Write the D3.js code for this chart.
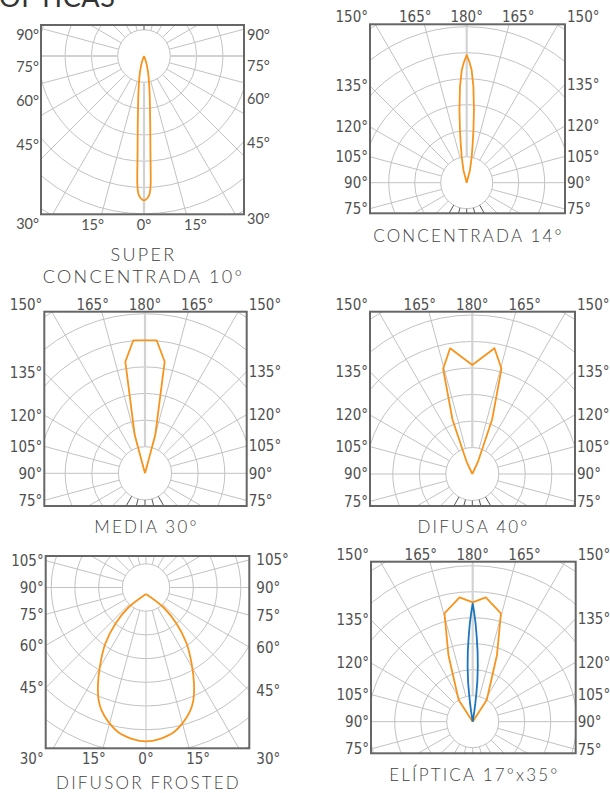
<!DOCTYPE html>
<html><head><meta charset="utf-8">
<script src="https://cdn.jsdelivr.net/npm/d3@7"></script>
<style>
html,body{margin:0;padding:0;background:#fff;}
svg{display:block;}
</style></head><body>
<svg id="chart" width="610" height="793"></svg>
<script>
// ---------------- data ----------------
const title = "ÓPTICAS";
const captions = [["SUPER", "CONCENTRADA 10°"], ["CONCENTRADA 14°"], ["MEDIA 30°"], ["DIFUSA 40°"], ["DIFUSOR FROSTED"], ["ELÍPTICA 17°x35°"]];

// photometric curves: angle from beam axis (deg), relative intensity (in grid rings)
const superAngles = [-25, -20.6, -16.7, -12.7, -8.9, -6.8, -5.1, -3.7, -2.9, -2.3, -1.4, 0, 1.4, 2.3, 2.9, 3.7, 5.1, 6.8, 8.9, 12.7, 16.7, 20.6, 25];
const superValues = [0, 0.16, 0.40, 0.78, 1.35, 1.91, 2.67, 3.81, 4.95, 5.25, 5.40, 5.49, 5.40, 5.25, 4.95, 3.81, 2.67, 1.91, 1.35, 0.78, 0.40, 0.16, 0];

const concAngles = [-18, -14.6, -10.9, -8.7, -7.3, -5.7, -4.0, -2.5, -1.4, 0, 1.4, 2.5, 4.0, 5.7, 7.3, 8.7, 10.9, 14.6, 18];
const concValues = [0, 0.50, 1.02, 1.53, 2.04, 2.81, 3.70, 4.34, 4.62, 4.91, 4.62, 4.34, 3.70, 2.81, 2.04, 1.53, 1.02, 0.50, 0];

const mediaAngles = [-20, -15, -10, -5, 0, 5, 10, 15, 20];
const mediaValues = [0, 1.49, 4.26, 5.02, 5.0, 5.02, 4.26, 1.49, 0];

const difusaAngles = [-30, -25, -20, -15.5, -10, 0, 10, 15.5, 20, 25, 30];
const difusaValues = [0, 0.5, 2.18, 4.12, 4.82, 4.11, 4.82, 4.12, 2.18, 0.5, 0];

const frostedAngles = [0, 41.3, 40.2, 35.9, 30.9, 26.5, 22.7, 19.7, 15.7, 10.8, 5, 0, -5, -10.8, -15.7, -19.7, -22.7, -26.5, -30.9, -35.9, -40.2, -41.3, 0];
const frostedValues = [0.27, 1.11, 2.00, 2.93, 3.75, 4.54, 5.17, 5.53, 5.88, 6.22, 6.42, 6.49, 6.42, 6.22, 5.88, 5.53, 5.17, 4.54, 3.75, 2.93, 2.00, 1.11, 0.27];

const elipWideAngles = [-40, -33, -25, -20, -14.6, -6, 0, 6, 14.6, 20, 25, 33, 40];
const elipWideValues = [0, 0.99, 1.62, 2.73, 4.31, 4.81, 4.59, 4.81, 4.31, 2.73, 1.62, 0.99, 0];
const elipNarrowAngles = [-10, -9, -8.2, -7.4, -6.6, -5.3, -4, -2.7, -1.7, -0.7, 0, 0.7, 1.7, 2.7, 4, 5.3, 6.6, 7.4, 8.2, 9, 10];
const elipNarrowValues = [0, 0.39, 0.70, 1.08, 1.55, 2.12, 2.70, 3.27, 3.77, 4.23, 4.54, 4.23, 3.77, 3.27, 2.70, 2.12, 1.55, 1.08, 0.70, 0.39, 0];

// tick labels (deg)
const superSideTicks = [90, 75, 60, 45, 30];
const superBottomTicks = [-15, 0, 15];
const upSideTicks = [135, 120, 105, 90, 75];
const upTopTicks = [-165, 180, 165];
const upCornerTicks = [-150, 150];
const frostedSideTicks = [105, 90, 75, 60, 45];
const frostedBottomTicks = [-15, 0, 15];
const frostedCornerTicks = [-30, 30];

// ---------------- drawing ----------------
const ORANGE = "#f7941d", BLUE = "#1c75bc";
const GRID = "#c2c2c2", AXIS = "#d2d2d2", DARK = "#555";
const gridAngles = d3.range(-165, 195, 15);
const svg = d3.select("#chart");

svg.append("text").attr("x", -1).attr("y", 7)
  .attr("font-family", "Lato, sans-serif").attr("font-weight", 400)
  .attr("font-size", 27).attr("letter-spacing", 0.6).attr("fill", "#333").text(title);

const idScale = d3.scaleLinear().domain([0, 180]).range([0, 180]);
const panels = [
  {box: [41, 25, 244, 214.3], c: [144, 56], step: 26.3, axis: 0,
   series: [{a: superAngles, v: superValues, color: ORANGE, curve: d3.curveCatmullRom}],
   side: superSideTicks, sideMap: d3.scaleLinear().domain([30, 90]).range([31.6, 101.8]),
   edge: superBottomTicks, edgeSide: "bottom", corner: [], thick: [0, 90, -90], dark: [180],
   lato: true, gapR: 3, cap: captions[0], capY: 260.7},
  {box: [370, 24.3, 565, 213.3], c: [466.7, 182.7], step: 26, axis: 180,
   series: [{a: concAngles, v: concValues, color: ORANGE, curve: d3.curveLinear}],
   side: upSideTicks, sideMap: idScale, edge: upTopTicks, edgeSide: "top", corner: upCornerTicks,
   thick: [180], dark: [-30, -15, 0, 15, 30], gapR: 2, cap: captions[1], capY: 241.7},
  {box: [44.3, 311.7, 246.7, 506], c: [145, 473.3], step: 26.6, axis: 180,
   series: [{a: mediaAngles, v: mediaValues, color: ORANGE, curve: d3.curveLinear}],
   side: upSideTicks, sideMap: idScale, edge: upTopTicks, edgeSide: "top", corner: upCornerTicks,
   thick: [180], dark: [-30, -15, 0, 15, 30], gapR: 2, cap: captions[2], capY: 533.3},
  {box: [370, 311.7, 575, 506], c: [472.3, 474], step: 26.5, axis: 180,
   series: [{a: difusaAngles, v: difusaValues, color: ORANGE, curve: d3.curveLinear}],
   side: upSideTicks, sideMap: idScale, edge: upTopTicks, edgeSide: "top", corner: upCornerTicks,
   thick: [180], dark: [-30, -15, 0, 15, 30], gapR: 2, cap: captions[3], capY: 533},
  {box: [45.7, 556, 249.3, 748.3], c: [146, 587.5], step: 23.7, axis: 0,
   series: [{a: frostedAngles, v: frostedValues, color: ORANGE, curve: d3.curveCatmullRom}],
   side: frostedSideTicks, sideMap: idScale, edge: frostedBottomTicks, edgeSide: "bottom", corner: frostedCornerTicks,
   thick: [], dark: [], gapR: 7, cap: captions[4], capY: 788.5},
  {box: [371, 561.7, 575.7, 753.3], c: [472.7, 721.7], step: 26, axis: 180,
   series: [{a: elipWideAngles, v: elipWideValues, color: ORANGE, curve: d3.curveLinear},
            {a: elipNarrowAngles, v: elipNarrowValues, color: BLUE, curve: d3.curveLinear}],
   side: upSideTicks, sideMap: idScale, edge: upTopTicks, edgeSide: "top", corner: upCornerTicks,
   thick: [180], dark: [], gapR: 2, cap: captions[5], capY: 780.7}
];

const angle = d3.scaleLinear().domain([0, 180]).range([Math.PI, 0]); // deg from "down" -> radial angle
const rad = d => d * Math.PI / 180;
const norm = d => ((d % 360) + 540) % 360 - 180;
const defs = svg.append("defs");

panels.forEach((p, i) => {
  const [x0, y0, x1, y1] = p.box, [cx, cy] = p.c;
  const r = d3.scaleLinear().domain([0, 1]).range([0, p.step]);
  defs.append("clipPath").attr("id", "clip" + i)
    .append("rect").attr("x", x0 - cx).attr("y", y0 - cy).attr("width", x1 - x0).attr("height", y1 - y0);
  const g = svg.append("g").attr("transform", `translate(${cx},${cy})`);
  const grid = g.append("g").attr("clip-path", `url(#clip${i})`);
  const maxR = Math.hypot(Math.max(cx - x0, x1 - cx), Math.max(cy - y0, y1 - cy));
  const rings = d3.range(1, Math.ceil(r.invert(maxR)) + 1);
  grid.selectAll("circle").data(rings).join("circle")
    .attr("r", d => r(d)).attr("fill", "none").attr("stroke", GRID).attr("stroke-width", 1);
  const inList = (list, a) => list.some(v => norm(v) === norm(a));
  const radial = d3.lineRadial().angle(d => angle(d[0])).radius(d => d[1]);
  grid.selectAll("path.spoke").data(gridAngles).join("path").attr("class", "spoke")
    .attr("d", a => radial([[a, r(1)], [a, maxR + 5]]))
    .attr("stroke", a => inList(p.dark, a) ? DARK : inList(p.thick, a) ? AXIS : GRID)
    .attr("stroke-width", a => inList(p.thick, a) ? 2.2 : 1);

  // curves
  p.series.forEach(s => {
    const pts = s.a.map((a, k) => [p.axis + a, s.v[k]]);
    const line = d3.lineRadial().angle(d => angle(d[0])).radius(d => r(d[1])).curve(s.curve);
    g.append("path").attr("d", line(pts)).attr("fill", "none")
      .attr("stroke", s.color).attr("stroke-width", 1.8).attr("stroke-linejoin", "round");
  });

  // frame
  svg.append("rect").attr("x", x0).attr("y", y0).attr("width", x1 - x0).attr("height", y1 - y0)
    .attr("fill", "none").attr("stroke", "#666").attr("stroke-width", 2);

  // labels
  const fs = p.lato ? 14.5 : 15;
  const lbl = svg.append("g")
    .attr("font-family", p.lato ? "Lato, sans-serif" : "'Liberation Sans Narrow', 'Arial Narrow', 'DejaVu Sans Condensed', sans-serif")
    .attr("font-size", fs).attr("fill", "#505050");
  const fmt = v => Math.abs(v) + "°";
  [-1, 1].forEach(sgn => {
    p.side.forEach(a => {
      const th = rad(sgn * p.sideMap(a));
      const dx = (sgn < 0 ? x0 : x1) - cx;
      const y = cy + dx * Math.cos(th) / Math.sin(th);
      lbl.append("text").attr("x", sgn < 0 ? x0 - 2 : x1 + p.gapR).attr("y", y + fs * 0.36)
        .attr("text-anchor", sgn < 0 ? "end" : "start").text(fmt(a));
    });
  });
  const rowY = p.edgeSide === "top" ? y0 - 2 : y1 + 16;
  const dy = (p.edgeSide === "top" ? y0 : y1) - cy;
  p.edge.forEach(a => {
    const ox = dy * Math.tan(rad(a));
    const sg = Math.abs(ox) < 1 ? 0 : Math.sign(ox);
    lbl.append("text").attr("x", cx + ox + sg * 9).attr("y", rowY)
      .attr("text-anchor", "middle").text(fmt(a));
  });
  p.corner.forEach(a => {
    lbl.append("text").attr("x", a < 0 ? x0 - 2 : x1 + p.gapR).attr("y", rowY)
      .attr("text-anchor", a < 0 ? "end" : "start").text(fmt(a));
  });

  // caption
  const capFs = p.lato ? 18 : 17;
  p.cap.forEach((t, k) => {
    svg.append("text").attr("x", (x0 + x1) / 2 + 1).attr("y", p.capY + k * 22.6)
      .attr("text-anchor", "middle").attr("font-family", "Lato, sans-serif").attr("font-weight", 300)
      .attr("font-size", capFs).attr("letter-spacing", p.lato ? 2.3 : 2.2).attr("fill", "#3f3f3f").text(t);
  });
});
</script>
</body></html>
